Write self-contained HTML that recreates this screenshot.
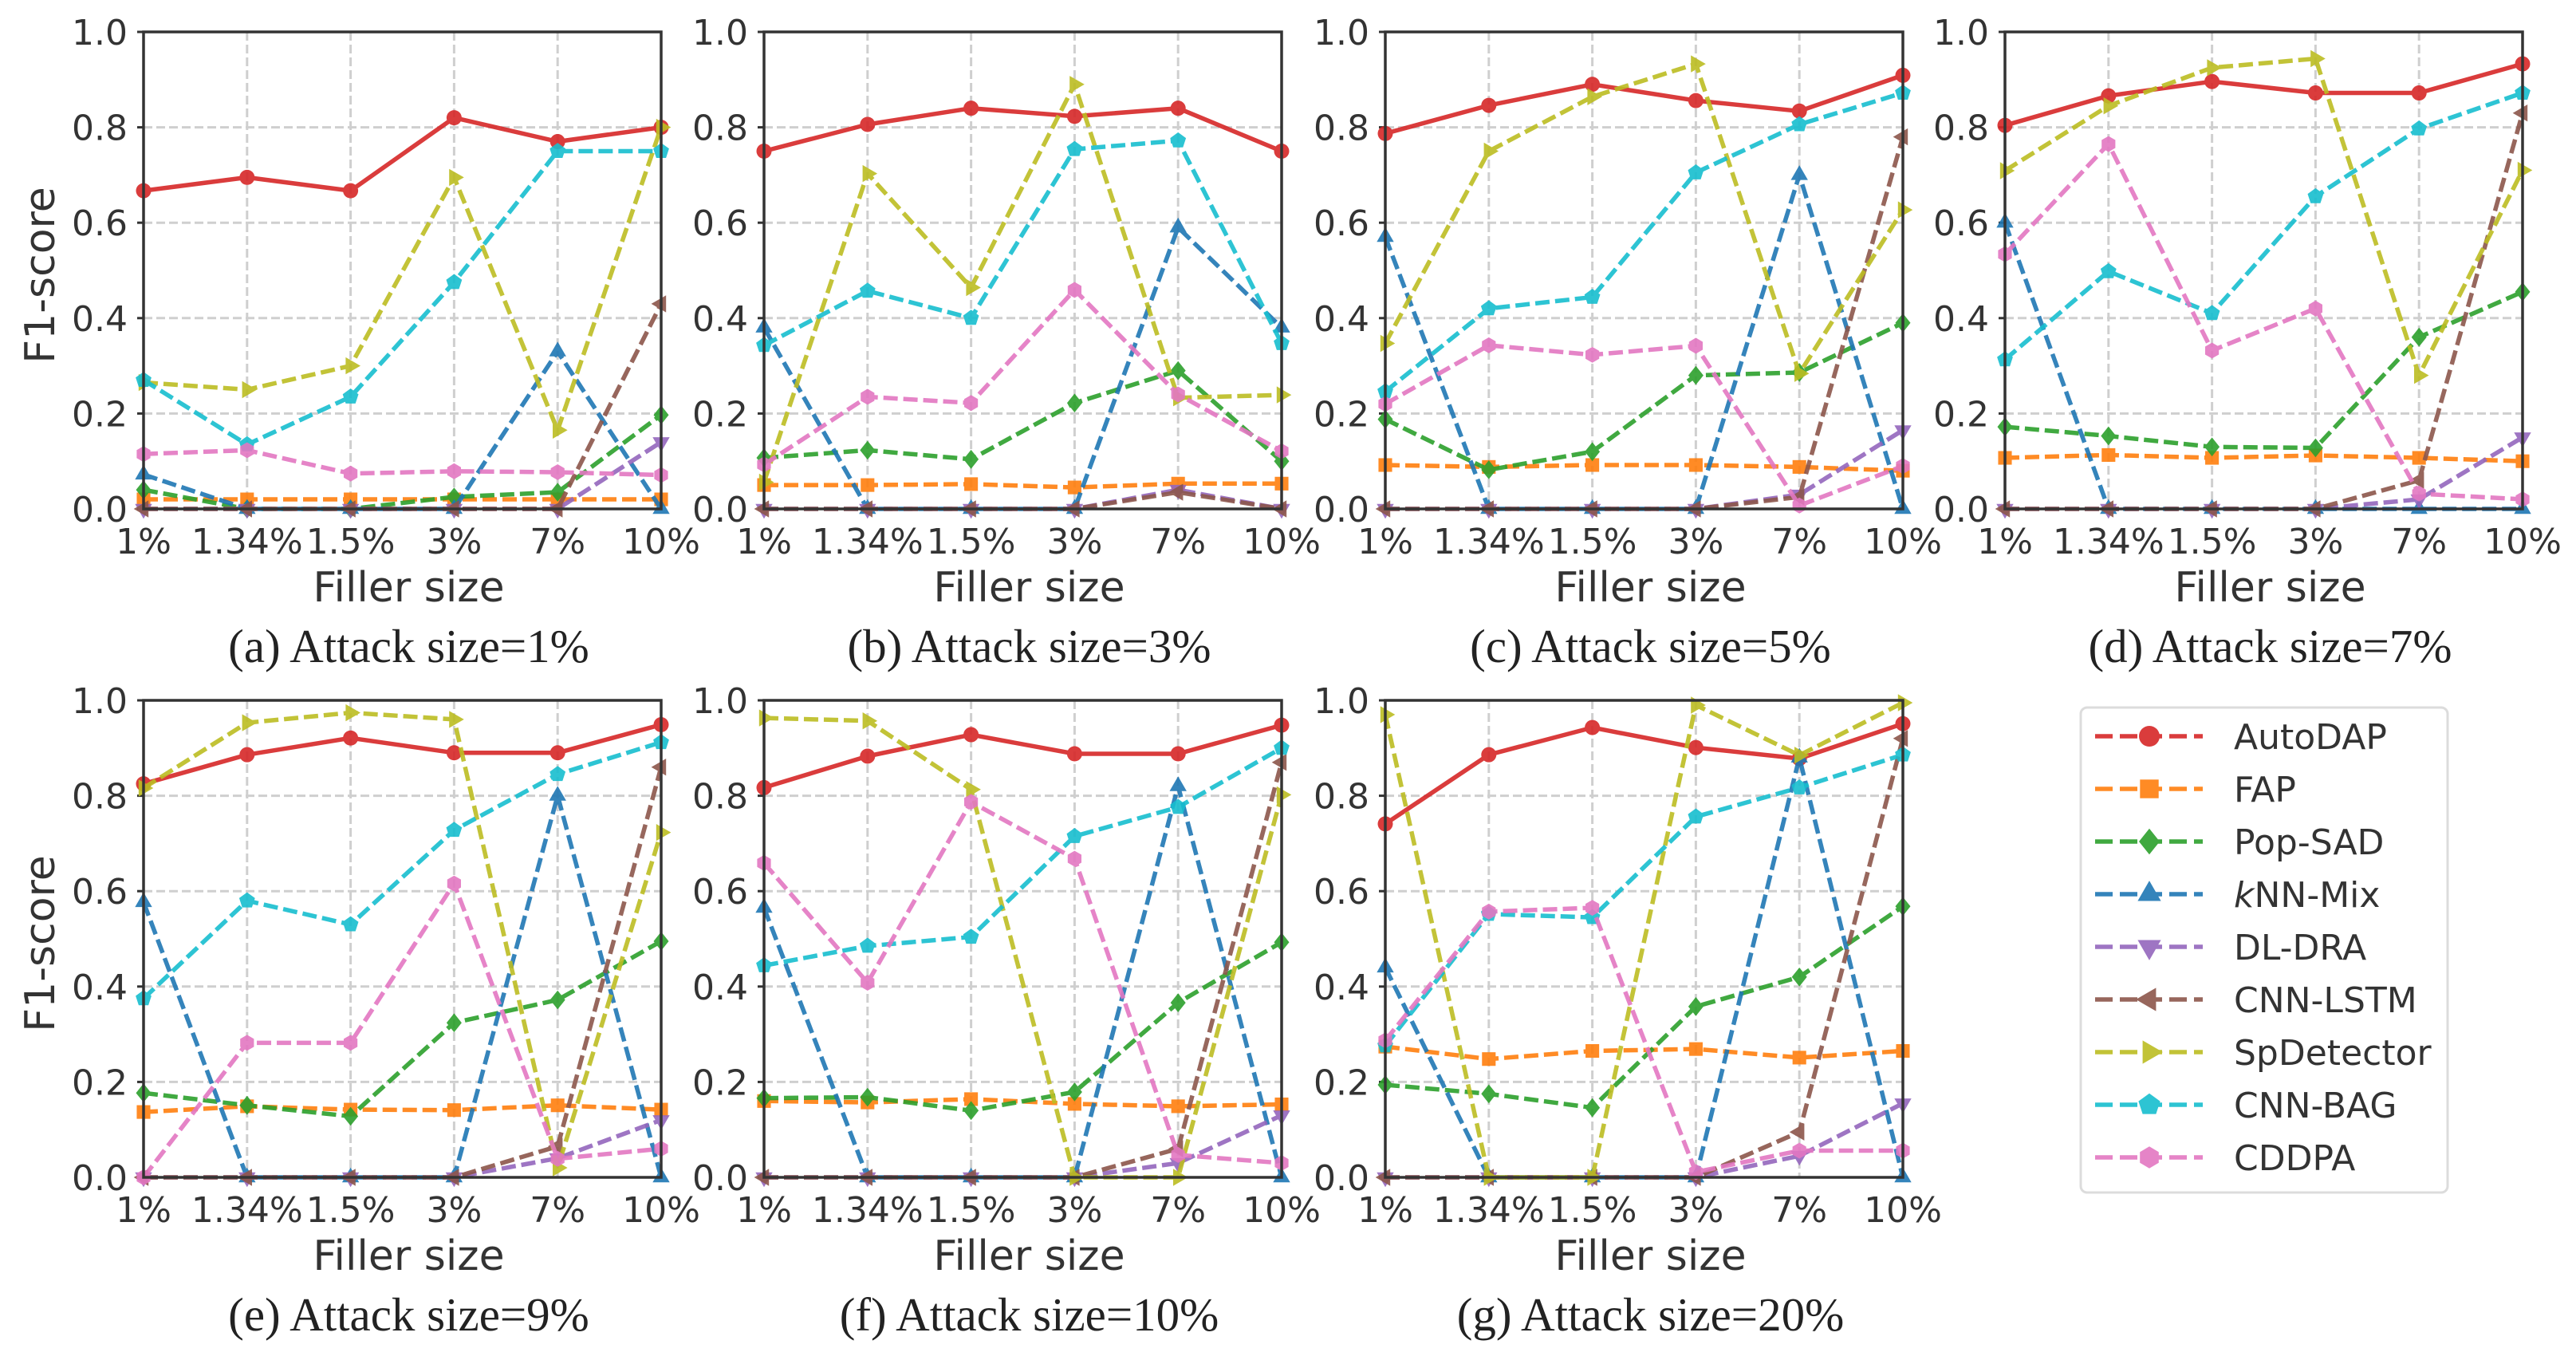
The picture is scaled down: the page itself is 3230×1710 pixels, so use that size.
<!DOCTYPE html>
<html><head><meta charset="utf-8">
<style>
html,body{margin:0;padding:0;background:#fff;}
svg{display:block;}
</style></head>
<body>
<svg id="fig" width="3230" height="1710" viewBox="0 0 3230 1710" xmlns="http://www.w3.org/2000/svg"></svg>
<script>
const categories = ["1%","1.34%","1.5%","3%","7%","10%"];
const yTicks = [0,0.2,0.4,0.6,0.8,1.0];
const yTickLabels = ["0.0","0.2","0.4","0.6","0.8","1.0"];
const seriesNames = ["AutoDAP","FAP","Pop-SAD","kNN-Mix","DL-DRA","CNN-LSTM","SpDetector","CNN-BAG","CDDPA"];
const panelCaptions = ["(a) Attack size=1%","(b) Attack size=3%","(c) Attack size=5%","(d) Attack size=7%","(e) Attack size=9%","(f) Attack size=10%","(g) Attack size=20%"];

const panelA = [
 [0.667,0.695,0.667,0.82,0.77,0.80],
 [0.02,0.02,0.02,0.02,0.02,0.02],
 [0.04,0.0,0.0,0.025,0.035,0.197],
 [0.072,0,0,0,0.33,0],
 [0,0,0,0,0,0.14],
 [0,0,0,0,0,0.43],
 [0.265,0.25,0.30,0.695,0.165,0.80],
 [0.27,0.135,0.235,0.475,0.75,0.75],
 [0.115,0.123,0.074,0.079,0.077,0.071]];
const panelB = [
 [0.75,0.806,0.84,0.823,0.84,0.75],
 [0.05,0.05,0.052,0.045,0.053,0.053],
 [0.107,0.123,0.104,0.222,0.29,0.10],
 [0.38,0,0,0,0.59,0.38],
 [0,0,0,0,0.04,0],
 [0,0,0,0,0.035,0],
 [0.056,0.703,0.464,0.89,0.233,0.239],
 [0.343,0.457,0.40,0.754,0.772,0.347],
 [0.093,0.235,0.222,0.459,0.24,0.121]];
const panelC = [
 [0.787,0.846,0.89,0.856,0.834,0.909],
 [0.092,0.088,0.092,0.092,0.088,0.08],
 [0.188,0.082,0.12,0.28,0.286,0.39],
 [0.57,0,0,0,0.70,0],
 [0,0,0,0,0.03,0.165],
 [0,0,0,0,0.025,0.78],
 [0.347,0.75,0.864,0.933,0.284,0.627],
 [0.246,0.42,0.444,0.705,0.806,0.872],
 [0.22,0.343,0.323,0.342,0.007,0.09]];
const panelD = [
 [0.804,0.866,0.896,0.872,0.872,0.933],
 [0.107,0.113,0.107,0.112,0.107,0.10],
 [0.172,0.153,0.13,0.128,0.36,0.455],
 [0.60,0,0,0,0,0],
 [0,0,0,0,0.02,0.15],
 [0,0,0,0,0.06,0.83],
 [0.709,0.845,0.925,0.944,0.28,0.71],
 [0.313,0.498,0.41,0.655,0.797,0.872],
 [0.534,0.765,0.332,0.42,0.032,0.02]];
const panelE = [
 [0.825,0.886,0.921,0.89,0.89,0.949],
 [0.137,0.149,0.142,0.141,0.151,0.142],
 [0.177,0.151,0.128,0.324,0.372,0.495],
 [0.577,0,0,0,0.80,0],
 [0,0,0,0,0.04,0.12],
 [0,0,0,0,0.065,0.86],
 [0.816,0.953,0.974,0.96,0.02,0.723],
 [0.375,0.58,0.53,0.728,0.845,0.912],
 [0,0.282,0.282,0.616,0.039,0.06]];
const panelF = [
 [0.817,0.883,0.928,0.888,0.888,0.948],
 [0.16,0.157,0.164,0.154,0.149,0.153],
 [0.166,0.168,0.14,0.179,0.366,0.493],
 [0.565,0,0,0,0.82,0],
 [0,0,0,0,0.03,0.13],
 [0,0,0,0,0.06,0.87],
 [0.963,0.957,0.813,0,0,0.802],
 [0.444,0.485,0.504,0.715,0.776,0.90],
 [0.659,0.408,0.787,0.668,0.047,0.03]];
const panelG = [
 [0.741,0.886,0.943,0.901,0.878,0.951],
 [0.274,0.248,0.265,0.269,0.251,0.265],
 [0.194,0.175,0.146,0.358,0.42,0.568],
 [0.44,0,0,0,0.88,0],
 [0,0,0,0,0.045,0.155],
 [0,0,0,0,0.095,0.92],
 [0.97,0,0,0.99,0.885,0.995],
 [0.276,0.552,0.545,0.756,0.817,0.886],
 [0.287,0.557,0.565,0.011,0.056,0.056]];
const panelData = [panelA,panelB,panelC,panelD,panelE,panelF,panelG];

const colors = ["#d62728","#ff7f0e","#2ca02c","#1f77b4","#9467bd","#8c564b","#bcbd22","#17becf","#e377c2"];
const markers = ["o","s","D","^","v","<",">","p","h"];
const NS = "http://www.w3.org/2000/svg";
const svg = document.getElementById("fig");
const TXT = "#333";
const FONT = "'DejaVu Sans','Liberation Sans',sans-serif";
function mk(tag, attrs, parent){const e=document.createElementNS(NS,tag);for(const k in attrs)e.setAttribute(k,attrs[k]);(parent||svg).appendChild(e);return e;}

function markerShape(type,x,y,r,color,parent){
  let e;
  if(type==="o"){e=mk("circle",{cx:x,cy:y,r:r},parent);}
  else if(type==="s"){e=mk("rect",{x:x-r*0.9,y:y-r*0.9,width:r*1.8,height:r*1.8},parent);}
  else {
    let pts=[];
    const poly=(n,rot,rr)=>{for(let i=0;i<n;i++){const a=rot+i*2*Math.PI/n;pts.push([x+rr*Math.cos(a),y+rr*Math.sin(a)]);}};
    if(type==="D"){pts=[[x,y-r*1.25],[x+r*1.0,y],[x,y+r*1.25],[x-r*1.0,y]];}
    else if(type==="^")poly(3,-Math.PI/2,r*1.3);
    else if(type==="v")poly(3,Math.PI/2,r*1.3);
    else if(type==="<")poly(3,Math.PI,r*1.3);
    else if(type===">")poly(3,0,r*1.3);
    else if(type==="p")poly(5,-Math.PI/2,r*1.1);
    else if(type==="h")poly(6,-Math.PI/2,r*1.05);
    e=mk("polygon",{points:pts.map(p=>p[0].toFixed(1)+","+p[1].toFixed(1)).join(" ")},parent);
  }
  e.setAttribute("fill",color);
  return e;
}

const lefts=[180,958,1737,2514,180,958,1737];
const tops=[40,40,40,40,878,878,878];
const W=649,H=598;

panelData.forEach((data,pi)=>{
  const L=lefts[pi],T=tops[pi];
  const g=mk("g",{});
  
  
  const xs=i=>L+i*W/(categories.length-1);
  const ys=v=>T+H-v*H;
  yTicks.forEach((t,i)=>{
    if(i>0&&i<yTicks.length-1){const l=mk("line",{x1:L,x2:L+W,y1:ys(t),y2:ys(t),stroke:"#cfcfcf","stroke-width":3,"stroke-dasharray":"11 5"},g);
    }
    const tl=mk("text",{x:L-20,y:ys(t)+16,"text-anchor":"end","font-family":FONT,"font-size":44,fill:TXT},g);
    tl.textContent=yTickLabels[i];
    
    mk("line",{x1:L-8,x2:L,y1:ys(t),y2:ys(t),stroke:TXT,"stroke-width":3},g);
  });
  categories.forEach((c,i)=>{
    if(i>0&&i<categories.length-1){const l=mk("line",{x1:xs(i),x2:xs(i),y1:T,y2:T+H,stroke:"#cfcfcf","stroke-width":3,"stroke-dasharray":"11 5"},g);
    }
    const tl=mk("text",{x:xs(i),y:T+H+56,"text-anchor":"middle","font-family":FONT,"font-size":44,fill:TXT},g);
    tl.textContent=c;
    
  });
  data.forEach((vals,si)=>{
    const sg=mk("g",{opacity:0.9},g);
    
    
    const d=vals.map((v,i)=>(i?"L":"M")+xs(i).toFixed(1)+","+ys(v).toFixed(1)).join(" ");
    const p=mk("path",{d:d,fill:"none",stroke:colors[si],"stroke-width":5.5,"stroke-linejoin":"round"},sg);
    if(si!==0)p.setAttribute("stroke-dasharray","18 7");
    
    vals.forEach((v,i)=>{const m=markerShape(markers[si],xs(i),ys(v),9.5,colors[si],sg);
      });
  });
  const fr=mk("rect",{x:L,y:T,width:W,height:H,fill:"none",stroke:TXT,"stroke-width":3.5},g);
  
  const xl=mk("text",{x:L+W/2+8,y:T+H+116,"text-anchor":"middle","font-family":FONT,"font-size":52,fill:TXT},g);
  xl.textContent="Filler size";
  
  const cap=mk("text",{x:L+W/2+8,y:T+H+192,"text-anchor":"middle","font-family":"'Liberation Serif',serif","font-size":59,fill:"#222"},g);
  cap.textContent=panelCaptions[pi];
  
  if(L===180){
    const yl=mk("text",{x:0,y:0,"text-anchor":"middle","font-family":FONT,"font-size":52,fill:TXT,transform:"translate(68,"+(T+H/2+6)+") rotate(-90)"},g);
    yl.textContent="F1-score";
    
  }
});

const lg=mk("g",{});


const lb=mk("rect",{x:2609,y:887,width:460,height:608,rx:8,fill:"#fff",stroke:"#dcdcdc","stroke-width":3},lg);

seriesNames.forEach((n,si)=>{
  const y=923+si*66;
  const eg=mk("g",{opacity:0.9},lg);
  
  
  mk("line",{x1:2627,x2:2762,y1:y,y2:y,stroke:colors[si],"stroke-width":5.5,"stroke-dasharray":"22 9"},eg);
  markerShape(markers[si],2695,y,13,colors[si],eg);
  const t=mk("text",{x:2801,y:y+16,"font-family":FONT,"font-size":44,fill:TXT},lg);
  if(n==="kNN-Mix"){const a=mk("tspan",{"font-style":"italic"},t);a.textContent="k";const b=mk("tspan",{},t);b.textContent="NN-Mix";}
  else t.textContent=n;
  
});
</script>
</body></html>
